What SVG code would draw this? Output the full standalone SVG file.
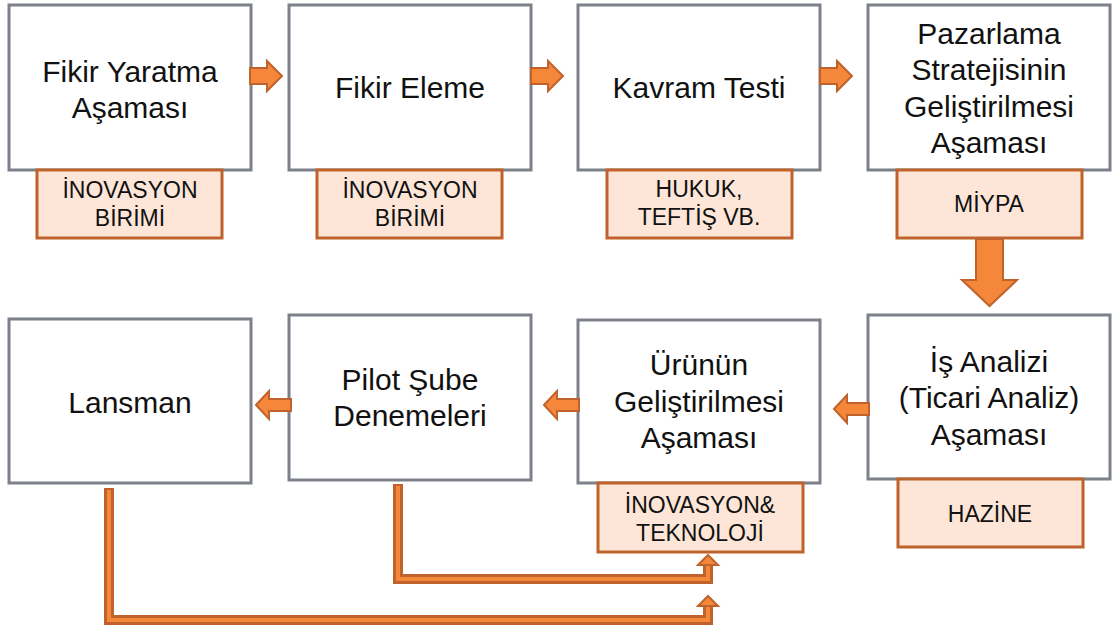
<svg xmlns="http://www.w3.org/2000/svg" width="1117" height="631" viewBox="0 0 1117 631">
  <style>
    .box { fill: #ffffff; stroke: #7b8089; stroke-width: 3; }
    .sub { fill: #fde6d7; stroke: #c0622b; stroke-width: 3; }
    .main { font-family: "Liberation Sans", Arial, sans-serif; font-size: 30px; fill: #111; text-anchor: middle; }
    .small { font-family: "Liberation Sans", Arial, sans-serif; font-size: 23px; fill: #111; text-anchor: middle; }
    .arrow { fill: #f5873a; stroke: #c0622b; stroke-width: 2; stroke-linejoin: miter; }
    .band-out { fill: none; stroke: #c0622b; stroke-width: 10; stroke-linejoin: miter; }
    .band-in { fill: none; stroke: #f5873a; stroke-width: 4; stroke-linejoin: miter; }
  </style>
  <defs>
    <path id="arrow-right" d="M0,-8 H17 V-15 L32,0 L17,15 V8 H0 Z"/>
    <path id="arrow-left" d="M0,0 L13,-14 V-6 H35 V6 H13 V14 Z"/>
  </defs>

  <rect width="1117" height="631" fill="#ffffff"/>

  <!-- top row -->
  <g id="fikir-yaratma">
    <rect class="box" x="9" y="5" width="242" height="165"/>
    <text class="main" x="130" y="82">Fikir Yaratma</text>
    <text class="main" x="130" y="118">Aşaması</text>
    <rect class="sub" x="37" y="170" width="185" height="68"/>
    <text class="small" x="130" y="198">İNOVASYON</text>
    <text class="small" x="130" y="226">BİRİMİ</text>
  </g>

  <g id="fikir-eleme">
    <rect class="box" x="289" y="5" width="242" height="165"/>
    <text class="main" x="410" y="98">Fikir Eleme</text>
    <rect class="sub" x="317" y="170" width="185" height="68"/>
    <text class="small" x="410" y="198">İNOVASYON</text>
    <text class="small" x="410" y="226">BİRİMİ</text>
  </g>

  <g id="kavram-testi">
    <rect class="box" x="578" y="5" width="242" height="165"/>
    <text class="main" x="699" y="98">Kavram Testi</text>
    <rect class="sub" x="607" y="170" width="185" height="68"/>
    <text class="small" x="699" y="197">HUKUK,</text>
    <text class="small" x="699" y="225">TEFTİŞ VB.</text>
  </g>

  <g id="pazarlama">
    <rect class="box" x="868" y="5" width="242" height="165"/>
    <text class="main" x="989" y="44">Pazarlama</text>
    <text class="main" x="989" y="80">Stratejisinin</text>
    <text class="main" x="989" y="117">Geliştirilmesi</text>
    <text class="main" x="989" y="153">Aşaması</text>
    <rect class="sub" x="897" y="170" width="185" height="68"/>
    <text class="small" x="989" y="212">MİYPA</text>
  </g>

  <!-- bottom row -->
  <g id="is-analizi">
    <rect class="box" x="868" y="315" width="242" height="164"/>
    <text class="main" x="989" y="372">İş Analizi</text>
    <text class="main" x="989" y="408">(Ticari Analiz)</text>
    <text class="main" x="989" y="445">Aşaması</text>
    <rect class="sub" x="898" y="479" width="185" height="68"/>
    <text class="small" x="990" y="522">HAZİNE</text>
  </g>

  <g id="urun-gelistirme">
    <rect class="box" x="578" y="320" width="242" height="163"/>
    <text class="main" x="699" y="375">Ürünün</text>
    <text class="main" x="699" y="412">Geliştirilmesi</text>
    <text class="main" x="699" y="448">Aşaması</text>
    <rect class="sub" x="598" y="483" width="205" height="69"/>
    <text class="small" x="700" y="513">İNOVASYON&amp;</text>
    <text class="small" x="700" y="541">TEKNOLOJİ</text>
  </g>

  <g id="pilot-sube">
    <rect class="box" x="289" y="315" width="242" height="165"/>
    <text class="main" x="410" y="390">Pilot Şube</text>
    <text class="main" x="410" y="426">Denemeleri</text>
  </g>

  <g id="lansman">
    <rect class="box" x="9" y="319" width="242" height="164"/>
    <text class="main" x="130" y="413">Lansman</text>
  </g>

  <!-- connectors -->
  <g id="connectors">
    <use href="#arrow-right" class="arrow" x="250" y="76"/>
    <use href="#arrow-right" class="arrow" x="531" y="76"/>
    <use href="#arrow-right" class="arrow" x="820" y="76"/>

    <path class="arrow" d="M976,239 H1003 V280 H1017 L989.5,306 L962,280 H976 Z"/>

    <use href="#arrow-left" class="arrow" x="834" y="409"/>
    <use href="#arrow-left" class="arrow" x="544" y="405"/>
    <use href="#arrow-left" class="arrow" x="256" y="405"/>

    <!-- Pilot Şube feedback to product development -->
    <path class="band-out" d="M398,484 V579 H708 V563"/>
    <path class="arrow" d="M708,555 L718,565 H698 Z"/>
    <path class="band-in" d="M398,486 V579 H708 V566"/>

    <!-- Lansman feedback to product development -->
    <path class="band-out" d="M109,488 V620 H708 V604"/>
    <path class="arrow" d="M708,596 L718,606 H698 Z"/>
    <path class="band-in" d="M109,490 V620 H708 V607"/>
  </g>
</svg>
